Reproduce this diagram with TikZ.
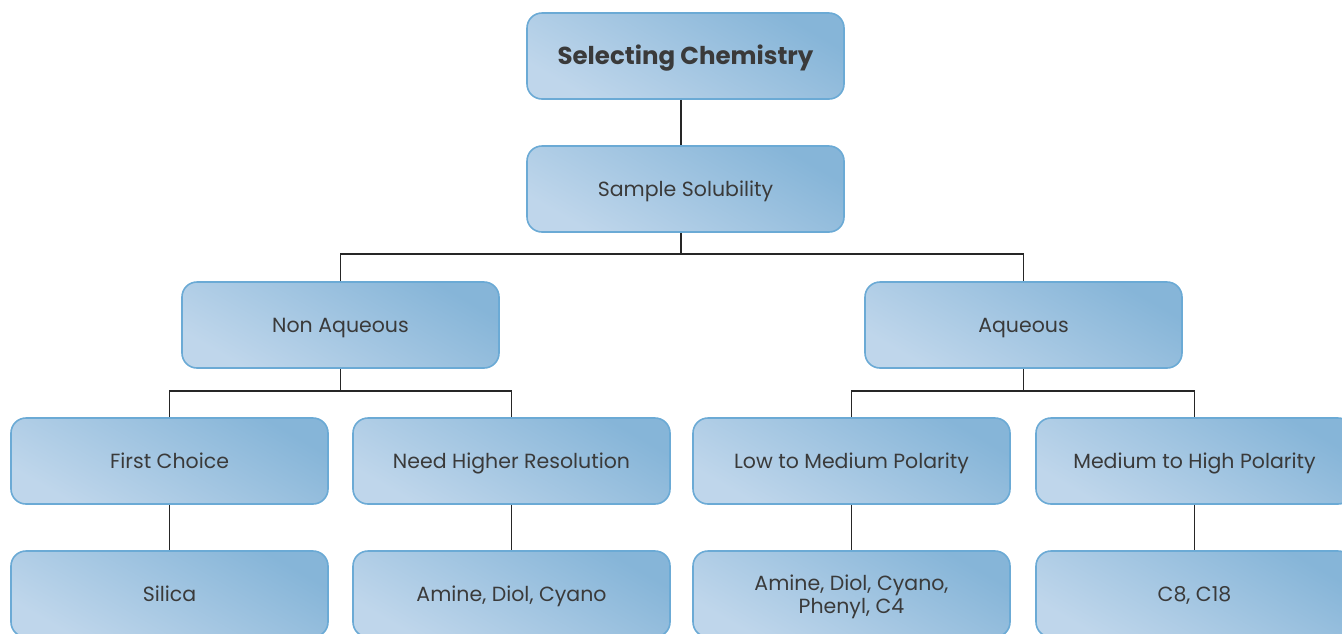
\documentclass[tikz,border=0pt]{standalone}
\usepackage{fontspec}
\setmainfont{Poppins}
\definecolor{boxdark}{HTML}{86B5D8}
\definecolor{boxlight}{HTML}{BFD6EB}
\definecolor{boxedge}{HTML}{6BAAD5}
\definecolor{txt}{HTML}{3A3A3A}
\begin{document}
\begin{tikzpicture}[x=1pt,y=-1pt,
  boxbase/.style={draw=boxedge, line width=1.6pt, rounded corners=15pt,
    minimum width=317pt, minimum height=86pt, inner sep=0pt,
    top color=boxdark, bottom color=boxlight, shading angle=-30,
    text=txt, font=\fontsize{20.5}{23}\selectfont, align=center},
  box/.style={boxbase, text height=14.4pt, text depth=0pt},
  link/.style={draw=black!85, line width=1.3pt}]
\useasboundingbox (0,0) rectangle (1342,633);
\node[box, font=\fontsize{24.5}{26}\selectfont\bfseries, text height=17.2pt] (top) at (685.5,56) {Selecting Chemistry};
\node[box] (sol) at (685.5,189) {Sample Solubility};
\node[box] (non) at (340.5,325) {Non Aqueous};
\node[box] (aq) at (1023.5,325) {Aqueous};
\node[box] (fc) at (169.5,461) {First Choice};
\node[box] (nhr) at (511.5,461) {Need Higher Resolution};
\node[box] (lmp) at (851.5,461) {Low to Medium Polarity};
\node[box] (mhp) at (1194.5,461) {Medium to High Polarity};
\node[box] (sil) at (169.5,594) {Silica};
\node[box] (adc) at (511.5,594) {Amine, Diol, Cyano};
\node[boxbase] (adcp) at (851.5,594) {\raisebox{-3pt}[\height][\depth]{\parbox{300pt}{\centering Amine, Diol, Cyano,\\Phenyl, C4}}};
\node[box] (c8) at (1194.5,594) {C8, C18};
\coordinate (j1) at (681,254);
\coordinate (j2) at (340.5,391);
\coordinate (j3) at (1023.5,391);
\draw[link] (681,0 |- top.south) -- (681,0 |- sol.north);
\draw[link] (681,0 |- sol.south) -- (j1);
\draw[link] (non.north) |- (j1) -| (aq.north);
\draw[link] (non.south) -- (j2);
\draw[link] (fc.north) |- (j2) -| (nhr.north);
\draw[link] (aq.south) -- (j3);
\draw[link] (lmp.north) |- (j3) -| (mhp.north);
\draw[link] (fc.south) -- (sil.north);
\draw[link] (nhr.south) -- (adc.north);
\draw[link] (lmp.south) -- (adcp.north);
\draw[link] (mhp.south) -- (c8.north);
\end{tikzpicture}
\end{document}
